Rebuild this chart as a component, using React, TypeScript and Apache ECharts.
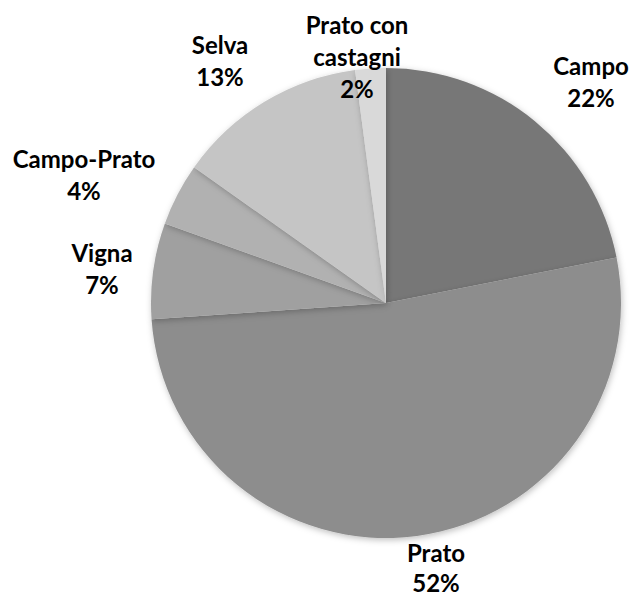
import React, { useEffect, useRef } from "react";
import * as echarts from "echarts";

const categories = ["Campo", "Prato", "Vigna", "Campo-Prato", "Selva", "Prato con\ncastagni"];
const values = [21.9, 52.0, 6.6, 4.3, 13.1, 2.1];
const colors = ["#777777", "#8d8d8d", "#a0a0a0", "#b1b1b1", "#c5c5c5", "#d9d9d9"];
// label anchor positions (centre of label block) in px
const labelPos: [number, number][] = [
  [591, 81],
  [436, 567],
  [102, 268],
  [84, 174],
  [220, 60],
  [357, 56],
];

export default function App() {
  const ref = useRef<HTMLDivElement>(null);
  useEffect(() => {
    if (!ref.current) return;
    const chart = echarts.init(ref.current, null, { renderer: "svg" });
    chart.setOption({
      animation: false,
      backgroundColor: "#ffffff",
      series: [
        {
          type: "pie",
          center: [386, 303],
          radius: 235,
          startAngle: 90,
          clockwise: true,
          data: categories.map((c, i) => ({
            name: c,
            value: values[i],
            itemStyle: { color: colors[i] },
            label: i === 1 ? { lineHeight: 30 } : undefined,
          })),
          itemStyle: {
            borderWidth: 0,
            shadowBlur: 6,
            shadowColor: "rgba(0,0,0,0.25)",
            shadowOffsetX: 1,
            shadowOffsetY: 2,
          },
          label: {
            show: true,
            position: "outside",
            formatter: (p: any) => `${p.name}\n${Math.round(p.percent)}%`,
            fontFamily: "Lato, 'Open Sans', sans-serif",
            fontWeight: "bold",
            fontSize: 24,
            lineHeight: 32,
            color: "#000000",
            align: "center",
            overflow: "none",
          },
          labelLine: { show: false },
          labelLayout: (p: any) => ({
            x: labelPos[p.dataIndex][0],
            y: labelPos[p.dataIndex][1],
            align: "center",
            verticalAlign: "middle",
          }),
          emphasis: { disabled: true },
        },
      ],
    });
    return () => chart.dispose();
  }, []);
  return (
    <div
      ref={ref}
      style={{ position: "absolute", left: 0, top: 0, width: 630, height: 596 }}
    />
  );
}
